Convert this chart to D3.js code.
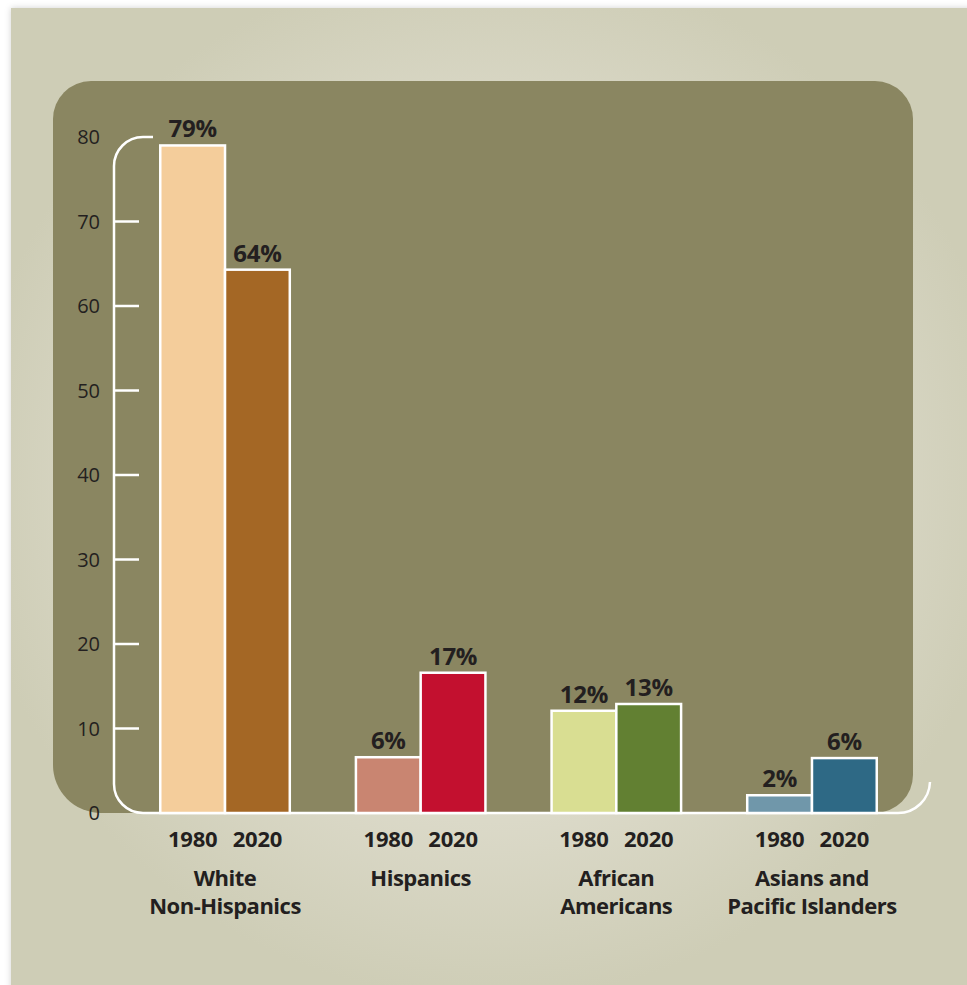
<!DOCTYPE html>
<html>
<head>
<meta charset="utf-8">
<script src="https://cdn.jsdelivr.net/npm/d3@7"></script>
<style>
  html, body { margin: 0; padding: 0; background: #ffffff; }
  svg { display: block; font-family: "Open Sans", "Noto Sans", sans-serif; }
</style>
</head>
<body>
<div id="chart"></div>
<script>
// data
const groups = ["White Non-Hispanics", "Hispanics", "African Americans", "Asians and Pacific Islanders"];
const groupLines = [["White", "Non-Hispanics"], ["Hispanics"], ["African", "Americans"], ["Asians and", "Pacific Islanders"]];
const years = ["1980", "2020"];
const values1980 = [79, 6.6, 12.1, 2.1];
const values2020 = [64.3, 16.6, 12.9, 6.5];
const labels1980 = ["79%", "6%", "12%", "2%"];
const labels2020 = ["64%", "17%", "13%", "6%"];
const colors1980 = ["#f4cd9b", "#c98571", "#d9de92", "#7097aa"];
const colors2020 = ["#a46725", "#c3102f", "#628032", "#2e6985"];
const yTicks = [0, 10, 20, 30, 40, 50, 60, 70, 80];

let width = 967, height = 985;

const svg = d3.select("#chart")
    .append("svg")
    .attr("width", width)
    .attr("height", height);

const defs = svg.append("defs");
const grad = defs.append("radialGradient")
    .attr("id", "bg")
    .attr("gradientUnits", "userSpaceOnUse")
    .attr("cx", 490).attr("cy", 480).attr("r", 520);
grad.append("stop").attr("offset", "0%").attr("stop-color", "#ecebdf");
grad.append("stop").attr("offset", "60%").attr("stop-color", "#dddbcb");
grad.append("stop").attr("offset", "100%").attr("stop-color", "#cecdb6");

const shadow = defs.append("filter").attr("id", "shadow")
    .attr("x", "-5%").attr("y", "-5%").attr("width", "110%").attr("height", "110%");
shadow.append("feDropShadow").attr("dx", 0).attr("dy", 0).attr("stdDeviation", 3)
    .attr("flood-color", "#000").attr("flood-opacity", 0.18);

// outer beige card
svg.append("rect")
    .attr("x", 11).attr("y", 8)
    .attr("width", width).attr("height", height)
    .attr("fill", "url(#bg)")
    .attr("filter", "url(#shadow)");

// olive panel with rounded corners
const px0 = 53, px1 = 913, py0 = 81, py1 = 813;
const rTop = 38, rBL = 48, rBR = 38;
svg.append("path")
    .attr("d", `M${px0 + rTop},${py0} H${px1 - rTop} A${rTop},${rTop} 0 0 1 ${px1},${py0 + rTop}
      V${py1 - rBR} A${rBR},${rBR} 0 0 1 ${px1 - rBR},${py1}
      H${px0 + rBL} A${rBL},${rBL} 0 0 1 ${px0},${py1 - rBL}
      V${py0 + rTop} A${rTop},${rTop} 0 0 1 ${px0 + rTop},${py0} Z`)
    .attr("fill", "#8a8661");

let y = d3.scaleLinear()
    .domain([0, 80])
    .range([813, 137]);

let x = d3.scaleBand()
    .domain(groups)
    .range([127, 910])
    .paddingInner(0.338)
    .paddingOuter(0.17);

let xYear = d3.scaleBand()
    .domain(years)
    .range([0, x.bandwidth()]);

// axis frame: vertical line with rounded ends and the baseline curving up at right
const axX = 114, r = 29;
svg.append("path")
    .attr("d", `M${axX + 39},${y(80)} H${axX + r} A${r},${r} 0 0 0 ${axX},${y(80) + r}
      V${y(0) - r} A${r},${r} 0 0 0 ${axX + r},${y(0)} H898 A32,32 0 0 0 930,${y(0) - 31}`)
    .attr("fill", "none")
    .attr("stroke", "#fff")
    .attr("stroke-width", 2.5);

// ticks
svg.append("g")
    .selectAll("line")
    .data(yTicks.filter(d => d > 0 && d < 80))
    .join("line")
    .attr("x1", axX).attr("x2", 139)
    .attr("y1", d => y(d)).attr("y2", d => y(d))
    .attr("stroke", "#fff")
    .attr("stroke-width", 2.5);

svg.append("g")
    .selectAll("text")
    .data(yTicks)
    .join("text")
    .attr("x", 100)
    .attr("y", d => y(d))
    .attr("dy", "0.35em")
    .attr("text-anchor", "end")
    .attr("font-size", 20)
    .attr("fill", "#231f20")
    .text(d => d);

// bars
const rows = [];
groups.forEach((g, i) => {
  rows.push({ group: g, year: "1980", value: values1980[i], label: labels1980[i], color: colors1980[i] });
  rows.push({ group: g, year: "2020", value: values2020[i], label: labels2020[i], color: colors2020[i] });
});

svg.append("g")
    .selectAll("rect")
    .data(rows)
    .join("rect")
    .attr("x", d => x(d.group) + xYear(d.year))
    .attr("y", d => y(d.value))
    .attr("width", xYear.bandwidth())
    .attr("height", d => y(0) - y(d.value))
    .attr("fill", d => d.color)
    .attr("stroke", "#fff")
    .attr("stroke-width", 2.5);

// value labels
svg.append("g")
    .selectAll("text")
    .data(rows)
    .join("text")
    .attr("x", d => x(d.group) + xYear(d.year) + xYear.bandwidth() / 2)
    .attr("y", d => y(d.value) - 8)
    .attr("text-anchor", "middle")
    .attr("font-size", 24)
    .attr("font-weight", 700)
    .attr("letter-spacing", -0.3)
    .attr("fill", "#231f20")
    .text(d => d.label);

// year labels
svg.append("g")
    .selectAll("text")
    .data(rows)
    .join("text")
    .attr("x", d => x(d.group) + xYear(d.year) + xYear.bandwidth() / 2)
    .attr("y", 847)
    .attr("text-anchor", "middle")
    .attr("font-size", 22)
    .attr("font-weight", 700)
    .attr("letter-spacing", -0.2)
    .attr("fill", "#231f20")
    .text(d => d.year);

// group names
const names = svg.append("g")
    .selectAll("text")
    .data(groups)
    .join("text")
    .attr("x", d => x(d) + x.bandwidth() / 2)
    .attr("y", 886)
    .attr("text-anchor", "middle")
    .attr("font-size", 22)
    .attr("font-weight", 700)
    .attr("letter-spacing", -0.5)
    .attr("fill", "#231f20");

names.selectAll("tspan")
    .data((d, i) => groupLines[i])
    .join("tspan")
    .attr("x", function() { return this.parentNode.getAttribute("x"); })
    .attr("dy", (d, i) => i === 0 ? 0 : 28)
    .text(d => d);
</script>
</body>
</html>
